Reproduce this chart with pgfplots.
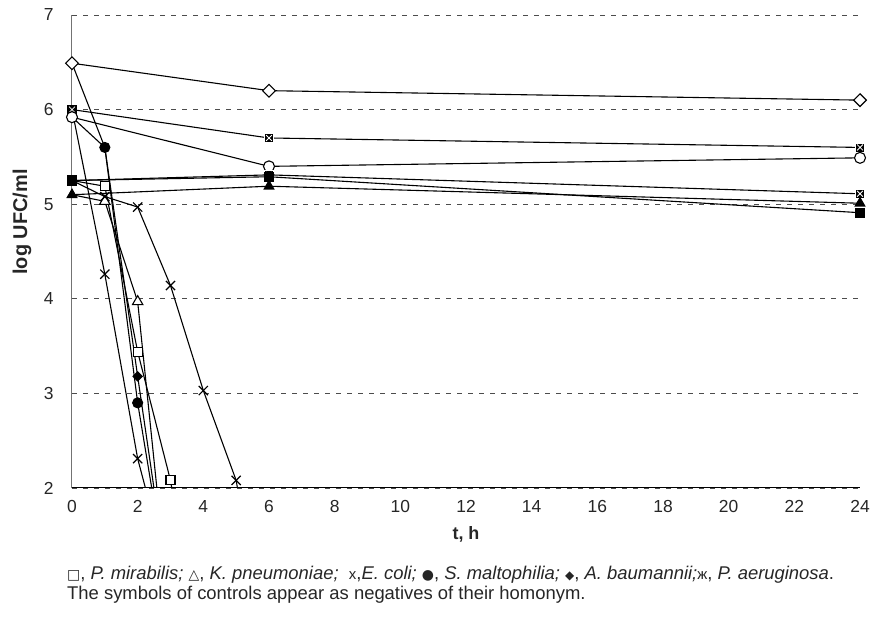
\documentclass[border=0pt]{standalone}
\usepackage{pgfplots}
\pgfplotsset{compat=1.18}
\usepackage{fontspec}
\setmainfont{Liberation Sans}
\newfontfamily\symfont{DejaVu Sans}
\pgfdeclareplotmark{xsq}{%
  \pgfpathrectangle{\pgfqpoint{-\pgfplotmarksize}{-\pgfplotmarksize}}{\pgfqpoint{2\pgfplotmarksize}{2\pgfplotmarksize}}%
  \pgfusepathqfillstroke
  \pgfsetstrokecolor{white}%
  \pgfsetlinewidth{0.8bp}%
  \pgfpathmoveto{\pgfqpoint{-.65\pgfplotmarksize}{-.65\pgfplotmarksize}}\pgfpathlineto{\pgfqpoint{.65\pgfplotmarksize}{.65\pgfplotmarksize}}%
  \pgfpathmoveto{\pgfqpoint{-.65\pgfplotmarksize}{.65\pgfplotmarksize}}\pgfpathlineto{\pgfqpoint{.65\pgfplotmarksize}{-.65\pgfplotmarksize}}%
  \pgfusepathqstroke
}
\begin{document}
\begin{tikzpicture}[x=1bp,y=1bp]
\path[use as bounding box] (-72,-131) rectangle (800,488);
\begin{axis}[
  scale only axis, width=788bp, height=473bp,
  xmin=0, xmax=24, ymin=2, ymax=7,
  xtick={0,2,...,24}, ytick={2,3,...,7},
  axis x line=bottom, axis y line=left, axis line style={-},
  x axis line style={black, line width=1bp},
  y axis line style={black!55, line width=1bp},
  tick style={draw=none},
  ymajorgrids,
  grid style={black!70, line width=0.9bp, dash pattern=on 5bp off 6bp},
  /pgf/number format/assume math mode=true,
  ticklabel style={font=\fontsize{17.5}{20}\selectfont, text=black!85},
  yticklabel style={inner sep=0pt, anchor=east, xshift=-16bp},
  xticklabel style={inner sep=0pt, anchor=north, yshift=-10bp},
  every axis plot/.append style={black, line width=1.1bp, mark options={solid, line width=0.9bp}},
]
% ---- controls ----
\addplot[mark=square*, mark size=4.5bp, mark options={rotate=45, fill=white}] coordinates {(0,6.49) (6,6.2) (24,6.1)};
\addplot[mark=xsq, mark size=4.5bp, mark options={fill=black}] coordinates {(0,6.0) (6,5.7) (24,5.6)};
\addplot[mark=*, mark size=5.5bp, mark options={fill=white}] coordinates {(0,5.92) (6,5.4) (24,5.49)};
\addplot[mark=xsq, mark size=4.5bp, mark options={fill=black}] coordinates {(0,5.25) (6,5.31) (24,5.11)};
\addplot[mark=square*, mark size=4.5bp, mark options={fill=black}] coordinates {(0,5.25) (6,5.29) (24,4.91)};
\addplot[mark=triangle*, mark size=5.5bp, mark options={fill=black}] coordinates {(0,5.1) (6,5.19) (24,5.01)};
% ---- treated ----
\addplot[mark=square*, mark size=4.5bp, mark options={fill=white}, mark indices={2,3,4}] coordinates {(0,5.25) (1,5.19) (2,3.44) (3,2.08) (4,0)};
\addplot[mark=triangle*, mark size=6bp, mark options={fill=white}, mark indices={2,3}] coordinates {(0,5.1) (1,5.03) (2,3.97) (3,0.6)};
\addplot[mark=x, mark size=6.5bp, mark options={line width=1.2bp}, mark indices={2,3}] coordinates {(0,6.0) (1,4.26) (2,2.31) (3,1.0)};
\addplot[mark=*, mark size=5bp, mark options={fill=black}, mark indices={2,3}] coordinates {(0,5.92) (1,5.6) (2,2.9) (3,0.8)};
\addplot[mark=square*, mark size=3.2bp, mark options={rotate=45, fill=black}, mark indices={2,3}] coordinates {(0,6.49) (1,5.6) (2,3.18) (3,0.8)};
\addplot[mark=x, mark size=6.5bp, mark options={line width=1.2bp}, mark indices={2,3,4,5,6}] coordinates {(0,5.25) (1,5.08) (2,4.97) (3,4.14) (4,3.03) (5,2.08) (6,0)};
\end{axis}
\node[rotate=90, font=\bfseries\fontsize{20}{22}\selectfont, text=black!85] at (-50,266) {log UFC/ml};
\node[anchor=base, font=\bfseries\fontsize{18}{20}\selectfont, text=black!85] at (394,-52) {t, h};
\node[anchor=base west, inner sep=0pt, font=\fontsize{18.5}{22}\selectfont, text=black!85] at (-5,-92)
  {{\symfont\fontsize{14}{14}\selectfont □}, \textit{P. mirabilis;}~{\symfont\fontsize{14}{14}\selectfont △}, \textit{K. pneumoniae;}~~{\fontsize{15}{14}\selectfont x},\textit{E. coli;}~{\symfont\fontsize{14}{14}\selectfont ●}, \textit{S. maltophilia;}~{\symfont\fontsize{12}{14}\selectfont ◆}, \textit{A. baumannii;}{\fontsize{15}{14}\selectfont ж}, \textit{P. aeruginosa}.};
\node[anchor=base west, inner sep=0pt, font=\fontsize{18.5}{22}\selectfont, text=black!85] at (-5,-112)
  {The symbols of controls appear as negatives of their homonym.};
\end{tikzpicture}
\end{document}
